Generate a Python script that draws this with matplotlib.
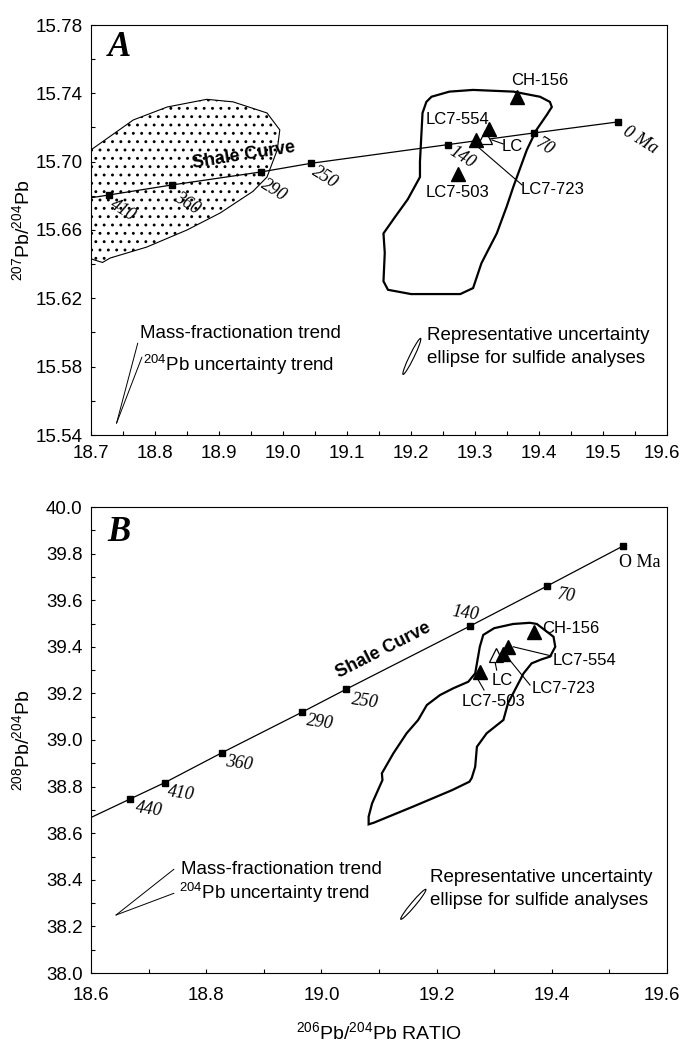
import numpy as np
import matplotlib.pyplot as plt
import matplotlib.transforms as mtransforms
from matplotlib.patches import Ellipse, Polygon
from matplotlib.ticker import MultipleLocator, FormatStrFormatter

plt.rcParams['font.family'] = ['Liberation Sans', 'DejaVu Sans']
plt.rcParams['mathtext.fontset'] = 'custom'
plt.rcParams['mathtext.rm'] = 'Liberation Sans'
plt.rcParams['hatch.linewidth'] = 0.9

NARROW = ['Liberation Sans Narrow', 'Liberation Sans', 'DejaVu Sans']
SERIF = ['Liberation Serif', 'DejaVu Serif']

# Shale curve (model ages), last point only carries the line to the axis edge
shale_labels_a = ['0 Ma', '70', '140', '250', '290', '360', '410', '', '']
shale_labels_b = ['O Ma', '70', '140', '250', '290', '360', '410', '440', '']
shale_206 = [19.524, 19.392, 19.258, 19.043, 18.966, 18.827, 18.728, 18.668, 18.58]
shale_207 = [15.7233, 15.7168, 15.710, 15.699, 15.694, 15.6864, 15.6805, 15.677, 15.6717]
shale_208 = [39.833, 39.661, 39.489, 39.218, 39.119, 38.945, 38.817, 38.747, 38.644]

# sulfide samples
samples = ['CH-156', 'LC7-554', 'LC7-723', 'LC', 'LC7-503']
filled = [True, True, True, False, True]
a206 = [19.366, 19.322, 19.302, 19.316, 19.273]
a207 = [15.738, 15.719, 15.7127, 15.7145, 15.693]
b206 = [19.369, 19.3245, 19.316, 19.3026, 19.276]
b208 = [39.465, 39.400, 39.369, 39.365, 39.293]

# stippled shale field (panel A)
shale_field_206 = [18.68, 18.70, 18.766, 18.819, 18.881, 18.922, 18.975, 18.995, 18.991, 18.975,
                   18.953, 18.902, 18.85, 18.787, 18.73, 18.718, 18.705, 18.68]
shale_field_207 = [15.703, 15.7069, 15.7244, 15.732, 15.7365, 15.735, 15.7285, 15.7186, 15.7069, 15.691,
                   15.6826, 15.67, 15.66, 15.650, 15.6436, 15.641, 15.6425, 15.646]

# sulfide field outline, panel A
field_a206 = [19.232, 19.26, 19.297, 19.36, 19.4016, 19.417, 19.42, 19.412, 19.396, 19.381, 19.36,
              19.3495, 19.334, 19.318, 19.310, 19.297, 19.277, 19.2, 19.164, 19.157, 19.159, 19.157,
              19.175, 19.195, 19.214, 19.214, 19.218, 19.224]
field_a207 = [15.738, 15.741, 15.742, 15.741, 15.738, 15.735, 15.732, 15.7273, 15.7186, 15.7069, 15.6854,
              15.6737, 15.658, 15.6464, 15.6405, 15.626, 15.6225, 15.6225, 15.625, 15.63, 15.6466, 15.658,
              15.6676, 15.678, 15.691, 15.70, 15.7285, 15.735]

# sulfide field outline, panel B
field_b206 = [19.281, 19.300, 19.333, 19.362, 19.374, 19.403, 19.406, 19.397, 19.382, 19.365, 19.351,
              19.339, 19.324, 19.316, 19.287, 19.270, 19.267, 19.261, 19.257, 19.227, 19.159, 19.091,
              19.082, 19.082, 19.088, 19.106, 19.105, 19.125, 19.148, 19.168, 19.183, 19.206, 19.229,
              19.255, 19.267, 19.275]
field_b208 = [39.451, 39.480, 39.498, 39.503, 39.498, 39.443, 39.400, 39.358, 39.346, 39.329, 39.286,
              39.229, 39.158, 39.086, 39.029, 38.971, 38.885, 38.837, 38.821, 38.785, 38.714, 38.645,
              38.638, 38.671, 38.728, 38.828, 38.857, 38.943, 39.029, 39.086, 39.150, 39.193, 39.222,
              39.250, 39.286, 39.400]

# axis ticks
a_xticks = [18.7, 18.8, 18.9, 19.0, 19.1, 19.2, 19.3, 19.4, 19.5, 19.6]
a_yticks = [15.54, 15.58, 15.62, 15.66, 15.70, 15.74, 15.78]
b_xticks = [18.6, 18.8, 19.0, 19.2, 19.4, 19.6]
b_yticks = [38.0, 38.2, 38.4, 38.6, 38.8, 39.0, 39.2, 39.4, 39.6, 39.8, 40.0]

fig = plt.figure(figsize=(6.8, 10.46), dpi=100)
axA = fig.add_axes([91 / 680, 1 - 435 / 1046, 576 / 680, 410 / 1046])
axB = fig.add_axes([91 / 680, 1 - 973 / 1046, 576 / 680, 466 / 1046])


def style_axes(ax, xticks, yticks, xmin, ymin, xfmt, yfmt, xpad):
    ax.set_xlim(xticks[0], xticks[-1])
    ax.set_ylim(yticks[0], yticks[-1])
    ax.set_xticks(xticks)
    ax.set_yticks(yticks)
    ax.xaxis.set_minor_locator(MultipleLocator(xmin))
    ax.yaxis.set_minor_locator(MultipleLocator(ymin))
    ax.xaxis.set_major_formatter(FormatStrFormatter(xfmt))
    ax.yaxis.set_major_formatter(FormatStrFormatter(yfmt))
    ax.tick_params(which='both', direction='in', length=3, width=0.8, labelsize=13.5)
    ax.tick_params(axis='x', which='major', pad=xpad)
    ax.tick_params(axis='y', which='major', pad=6)
    for sp in ax.spines.values():
        sp.set_linewidth(0.8)
    # last x label sits a touch left so it stays inside the figure
    lbl = ax.get_xticklabels()[-1]
    lbl.set_transform(lbl.get_transform() + mtransforms.ScaledTranslation(-0.05, 0, fig.dpi_scale_trans))


def sample_markers(ax, xs, ys):
    for x, y, f in zip(xs, ys, filled):
        if not f:
            ax.plot(x, y, '^', ms=10, mfc='white', mec='k', mew=0.9, zorder=4)
    for x, y, f in zip(xs, ys, filled):
        if f:
            ax.plot(x, y, '^', ms=10, color='k', zorder=5)


def ellipse(ax, cx, cy, length, width, angle):
    trans = fig.dpi_scale_trans + mtransforms.ScaledTranslation(cx, cy, ax.transData)
    ax.add_patch(Ellipse((0, 0), length, width, angle=angle, transform=trans,
                         fill=False, lw=0.8, ec='k'))


# ---------------- Panel A ----------------
style_axes(axA, a_xticks, a_yticks, 0.05, 0.02, '%.1f', '%.2f', 7)

axA.add_patch(Polygon(np.column_stack([shale_field_206, shale_field_207]), closed=True,
                      fc='white', ec='k', lw=0.8, hatch='..', zorder=1))
axA.add_patch(Polygon(np.column_stack([field_a206, field_a207]), closed=True,
                      fill=False, ec='k', lw=1.6, zorder=2))

axA.plot(shale_206, shale_207, '-', color='k', lw=0.9, marker='s', ms=3.8, zorder=3)
offs_a = [(15.8, -13), (7.9, -10.1), (10.1, -9.4), (10.1, -10.1), (9.4, -13), (10.8, -13), (10.1, -10.8)]
for lab, x, y, off in zip(shale_labels_a, shale_206, shale_207, offs_a):
    axA.annotate(lab, (x, y), xytext=off, textcoords='offset points', ha='center', va='center',
                 rotation=-32, rotation_mode='anchor', fontsize=13, family=SERIF, style='italic')
axA.text(18.939, 15.7035, 'Shale Curve', rotation=9, ha='center', va='center',
         fontsize=13, fontweight='bold', rotation_mode='anchor')

sample_markers(axA, a206, a207)
axA.text(19.4016, 15.7473, 'CH-156', ha='center', va='center', fontsize=12, family=NARROW)
axA.text(19.2719, 15.7244, 'LC7-554', ha='center', va='center', fontsize=12, family=NARROW)
axA.text(19.3578, 15.7086, 'LC', ha='center', va='center', fontsize=12, family=NARROW)
axA.text(19.4219, 15.684, 'LC7-723', ha='center', va='center', fontsize=12, family=NARROW)
axA.text(19.2734, 15.6817, 'LC7-503', ha='center', va='center', fontsize=12, family=NARROW)
axA.plot([19.3266, 19.3438], [15.7127, 15.7104], color='k', lw=0.8)
axA.plot([19.3047, 19.3734], [15.7086, 15.6864], color='k', lw=0.8)

axA.plot([18.740, 18.773], [15.547, 15.5937], color='k', lw=0.7)
axA.plot([18.740, 18.7795], [15.547, 15.5855], color='k', lw=0.7)
axA.text(18.776, 15.5995, 'Mass-fractionation trend', va='center', fontsize=13.5)
axA.text(18.7816, 15.581, r'$\mathregular{^{204}}$Pb uncertainty trend', va='center', fontsize=13.5)
ellipse(axA, 19.2013, 15.586, 0.40, 0.045, 64)
axA.text(19.225, 15.5985, 'Representative uncertainty', va='center', fontsize=13.5)
axA.text(19.225, 15.585, 'ellipse for sulfide analyses', va='center', fontsize=13.5)

axA.text(0.03, 0.985, 'A', transform=axA.transAxes, ha='left', va='top', fontsize=25,
         family=SERIF, fontweight='bold', style='italic')
axA.set_ylabel(r'$\mathregular{^{207}}$Pb/$\mathregular{^{204}}$Pb', fontsize=14)
axA.yaxis.set_label_coords(-0.1, 0.5)

# ---------------- Panel B ----------------
style_axes(axB, b_xticks, b_yticks, 0.1, 0.1, '%.1f', '%.1f', 10)

axB.add_patch(Polygon(np.column_stack([field_b206, field_b208]), closed=True,
                      fill=False, ec='k', lw=1.6, zorder=2))
axB.plot(shale_206, shale_208, '-', color='k', lw=0.9, marker='s', ms=3.8, zorder=3)
offs_b = [(12.2, -12.2), (13.7, -7.2), (-3.6, 9.4), (13.7, -8.6), (13, -7.2), (12.2, -7.9),
          (11.5, -7.9), (13.7, -7.9)]
for i, (lab, x, y, off) in enumerate(zip(shale_labels_b, shale_206, shale_208, offs_b)):
    axB.annotate(lab, (x, y), xytext=off, textcoords='offset points', ha='center', va='center',
                 rotation=0 if i == 0 else -8, rotation_mode='anchor', fontsize=13, family=SERIF,
                 style='normal' if i == 0 else 'italic')
axB.text(19.107, 39.386, 'Shale Curve', rotation=27, ha='center', va='center',
         fontsize=13, fontweight='bold', rotation_mode='anchor')

sample_markers(axB, b206, b208)
axB.text(19.3825, 39.479, 'CH-156', ha='left', va='center', fontsize=12, family=NARROW)
axB.text(19.4016, 39.340, 'LC7-554', ha='left', va='center', fontsize=12, family=NARROW)
axB.text(19.365, 39.222, 'LC7-723', ha='left', va='center', fontsize=12, family=NARROW)
axB.text(19.314, 39.2575, 'LC', ha='center', va='center', fontsize=12, family=NARROW)
axB.text(19.2984, 39.164, 'LC7-503', ha='center', va='center', fontsize=12, family=NARROW)
axB.plot([19.3332, 19.3998], [39.400, 39.3605], color='k', lw=0.8)
axB.plot([19.3245, 19.3622], [39.3506, 39.236], color='k', lw=0.8)
axB.plot([19.3014, 19.3043], [39.336, 39.300], color='k', lw=0.8)
axB.plot([19.2724, 19.2823], [39.2575, 39.2146], color='k', lw=0.8)

axB.plot([18.6436, 18.7438], [38.249, 38.445], color='k', lw=0.7)
axB.plot([18.6436, 18.7438], [38.249, 38.342], color='k', lw=0.7)
axB.text(18.7566, 38.445, 'Mass-fractionation trend', va='center', fontsize=13.5)
axB.text(18.7528, 38.345, r'$\mathregular{^{204}}$Pb uncertainty trend', va='center', fontsize=13.5)
ellipse(axB, 19.1596, 38.2948, 0.39, 0.045, 50)
axB.text(19.189, 38.411, 'Representative uncertainty', va='center', fontsize=13.5)
axB.text(19.189, 38.310, 'ellipse for sulfide analyses', va='center', fontsize=13.5)

axB.text(0.028, 0.98, 'B', transform=axB.transAxes, ha='left', va='top', fontsize=25,
         family=SERIF, fontweight='bold', style='italic')
axB.set_ylabel(r'$\mathregular{^{208}}$Pb/$\mathregular{^{204}}$Pb', fontsize=14)
axB.yaxis.set_label_coords(-0.1, 0.5)
axB.set_xlabel(r'$\mathregular{^{206}}$Pb/$\mathregular{^{204}}$Pb RATIO', fontsize=14)
axB.xaxis.set_label_coords(0.5, -0.103)

fig.savefig('out.png', dpi=100)
